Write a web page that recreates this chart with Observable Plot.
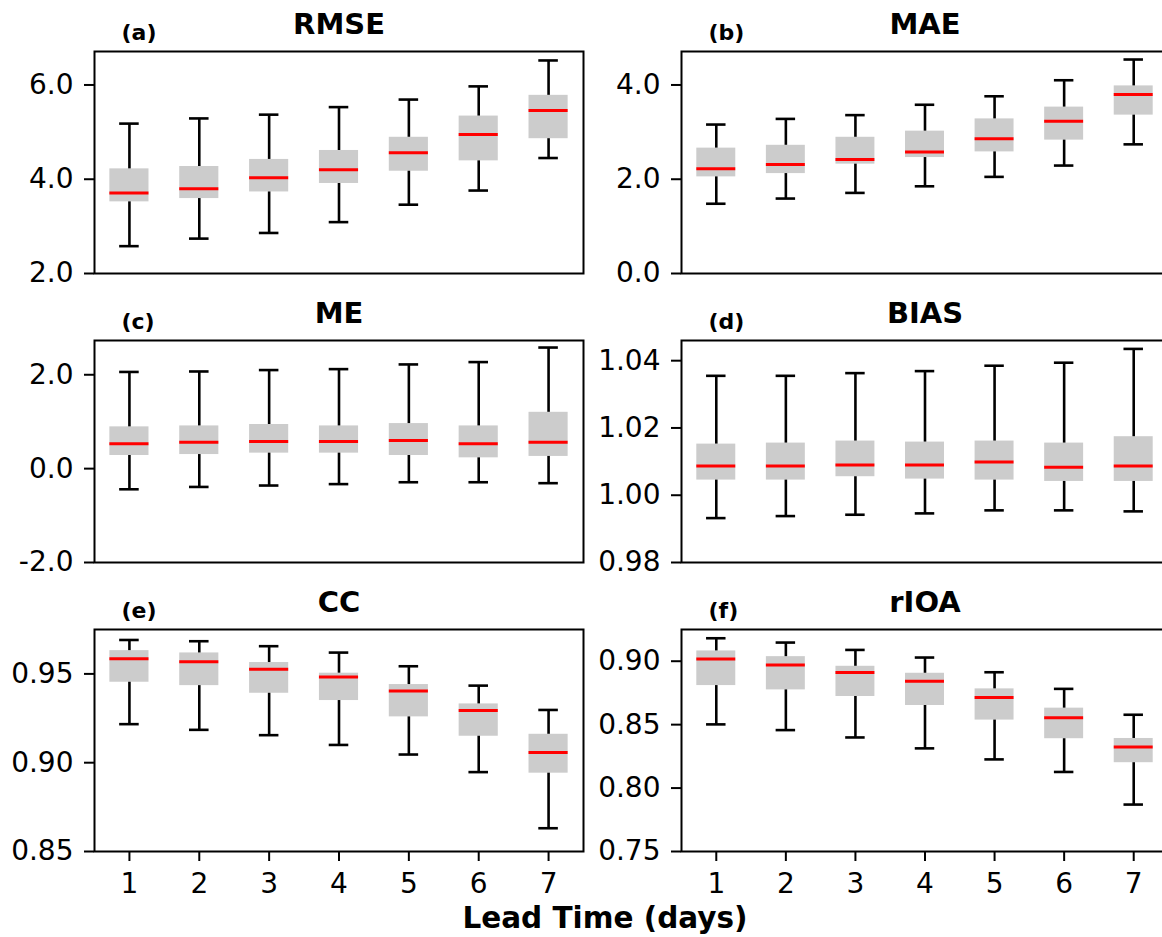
<!DOCTYPE html>
<html>
<head>
<meta charset="utf-8">
<script src="https://cdn.jsdelivr.net/npm/d3@7"></script>
<script src="https://cdn.jsdelivr.net/npm/@observablehq/plot@0.6"></script>
<style>
  html, body { margin: 0; padding: 0; background: #fff; overflow: hidden; }
  #wrap { position: relative; width: 1162px; height: 937px; overflow: hidden; }
  #wrap svg { position: absolute; overflow: visible; }
</style>
</head>
<body>
<div id="wrap"></div>
<script>
const days = [1, 2, 3, 4, 5, 6, 7];
const xLabel = "Lead Time (days)";

const rmseLow  = [2.58, 2.74, 2.86, 3.09, 3.46, 3.76, 4.45];
const rmseQ1   = [3.52, 3.59, 3.73, 3.91, 4.17, 4.39, 4.86];
const rmseMed  = [3.71, 3.80, 4.03, 4.20, 4.56, 4.95, 5.46];
const rmseQ3   = [4.22, 4.27, 4.42, 4.61, 4.89, 5.34, 5.78];
const rmseHigh = [5.18, 5.29, 5.37, 5.53, 5.69, 5.97, 6.52];

const maeLow  = [1.48, 1.59, 1.71, 1.85, 2.05, 2.29, 2.74];
const maeQ1   = [2.05, 2.12, 2.32, 2.46, 2.58, 2.83, 3.36];
const maeMed  = [2.22, 2.31, 2.42, 2.58, 2.86, 3.23, 3.80];
const maeQ3   = [2.66, 2.72, 2.89, 3.02, 3.28, 3.53, 3.98];
const maeHigh = [3.16, 3.28, 3.36, 3.58, 3.76, 4.10, 4.54];

const meLow  = [-0.44, -0.39, -0.36, -0.33, -0.29, -0.29, -0.31];
const meQ1   = [0.28, 0.30, 0.33, 0.33, 0.28, 0.23, 0.26];
const meMed  = [0.53, 0.56, 0.58, 0.58, 0.60, 0.53, 0.56];
const meQ3   = [0.89, 0.91, 0.94, 0.91, 0.96, 0.91, 1.20];
const meHigh = [2.06, 2.07, 2.10, 2.12, 2.22, 2.27, 2.58];

const biasLow  = [0.9932, 0.9938, 0.9942, 0.9946, 0.9955, 0.9955, 0.9952];
const biasQ1   = [1.0045, 1.0045, 1.0055, 1.0048, 1.0045, 1.0041, 1.0041];
const biasMed  = [1.0087, 1.0087, 1.0090, 1.0090, 1.0099, 1.0083, 1.0087];
const biasQ3   = [1.0152, 1.0155, 1.0161, 1.0158, 1.0161, 1.0155, 1.0174];
const biasHigh = [1.0355, 1.0355, 1.0363, 1.0369, 1.0385, 1.0394, 1.0435];

const ccLow  = [0.9217, 0.9185, 0.9155, 0.9100, 0.9046, 0.8947, 0.8631];
const ccQ1   = [0.9453, 0.9434, 0.9391, 0.9350, 0.9258, 0.9149, 0.8941];
const ccMed  = [0.9586, 0.9569, 0.9526, 0.9483, 0.9404, 0.9294, 0.9057];
const ccQ3   = [0.9631, 0.9618, 0.9564, 0.9504, 0.9440, 0.9331, 0.9160];
const ccHigh = [0.9691, 0.9684, 0.9656, 0.9620, 0.9543, 0.9434, 0.9297];

const rioaLow  = [0.8502, 0.8457, 0.8399, 0.8313, 0.8226, 0.8127, 0.7870];
const rioaQ1   = [0.8808, 0.8774, 0.8722, 0.8651, 0.8536, 0.8389, 0.8200];
const rioaMed  = [0.9018, 0.8971, 0.8911, 0.8842, 0.8714, 0.8554, 0.8323];
const rioaQ3   = [0.9081, 0.9036, 0.8960, 0.8905, 0.8782, 0.8630, 0.8391];
const rioaHigh = [0.9181, 0.9147, 0.9089, 0.9029, 0.8913, 0.8782, 0.8578];

const panelTitles = ["RMSE", "MAE", "ME", "BIAS", "CC", "rIOA"];
const panelTags = ["(a)", "(b)", "(c)", "(d)", "(e)", "(f)"];
const yDomains = [[2, 6.71], [0, 4.71], [-2, 2.73], [0.98, 1.046], [0.85, 0.975], [0.75, 0.925]];
const yTicks = [[2, 4, 6], [0, 2, 4], [-2, 0, 2], [0.98, 1.00, 1.02, 1.04], [0.85, 0.90, 0.95], [0.75, 0.80, 0.85, 0.90]];
const yDecimals = [1, 1, 1, 2, 2, 2];

const series = [
  [rmseLow, rmseQ1, rmseMed, rmseQ3, rmseHigh],
  [maeLow, maeQ1, maeMed, maeQ3, maeHigh],
  [meLow, meQ1, meMed, meQ3, meHigh],
  [biasLow, biasQ1, biasMed, biasQ3, biasHigh],
  [ccLow, ccQ1, ccMed, ccQ3, ccHigh],
  [rioaLow, rioaQ1, rioaMed, rioaQ3, rioaHigh]
];

const FONT = "DejaVu Sans";
const boxHalf = 0.28, capHalf = 0.14;
const frameH = 222;
const colLeft = [94, 681];
const colWidth = [489, 487];
const rowTop = [51, 340, 629];
const mLeft = 94, mTop = 51;

const wrap = document.getElementById("wrap");

series.forEach((s, i) => {
  const row = Math.floor(i / 2), col = i % 2;
  const showX = row === 2;
  const data = days.map((day, j) => ({day, lo: s[0][j], q1: s[1][j], med: s[2][j], q3: s[3][j], hi: s[4][j]}));
  const mBottom = showX ? 60 : 4;
  const mRight = 6;
  const dec = yDecimals[i];
  const chart = Plot.plot({
    width: mLeft + colWidth[col] + mRight,
    height: mTop + frameH + mBottom,
    marginLeft: mLeft, marginRight: mRight, marginTop: mTop, marginBottom: mBottom,
    style: {fontFamily: FONT, fontSize: "28px", color: "black", background: "transparent", overflow: "visible"},
    x: {domain: [0.5, 7.5], axis: null},
    y: {domain: yDomains[i], axis: null},
    marks: [
      Plot.rect(data, {x1: d => d.day - boxHalf, x2: d => d.day + boxHalf, y1: "q1", y2: "q3", fill: "#cccccc"}),
      Plot.ruleX(data, {x: "day", y1: "q3", y2: "hi", stroke: "black", strokeWidth: 2.6}),
      Plot.ruleX(data, {x: "day", y1: "lo", y2: "q1", stroke: "black", strokeWidth: 2.6}),
      Plot.ruleY(data, {y: "hi", x1: d => d.day - capHalf, x2: d => d.day + capHalf, stroke: "black", strokeWidth: 2.6}),
      Plot.ruleY(data, {y: "lo", x1: d => d.day - capHalf, x2: d => d.day + capHalf, stroke: "black", strokeWidth: 2.6}),
      Plot.ruleY(data, {y: "med", x1: d => d.day - boxHalf, x2: d => d.day + boxHalf, stroke: "#ff0000", strokeWidth: 3}),
      Plot.frame({stroke: "black", strokeWidth: 2}),
      Plot.axisY({ticks: yTicks[i], tickFormat: d => d.toFixed(dec), tickSize: 10, tickPadding: 11, fontSize: 28, strokeWidth: 2, stroke: "black", fill: "black", label: null}),
      showX ? Plot.axisX({ticks: days, tickFormat: d => String(d), tickSize: 10, tickPadding: 12, fontSize: 28, strokeWidth: 2, stroke: "black", fill: "black", label: null}) : null,
      Plot.text([panelTitles[i]], {frameAnchor: "top", dy: -18, lineAnchor: "bottom", fontSize: 29, fontWeight: "bold", fill: "black"}),
      Plot.text([panelTags[i]], {frameAnchor: "top-left", dx: 27, dy: -12, textAnchor: "start", lineAnchor: "bottom", fontSize: 22, fontWeight: "bold", fill: "black"})
    ]
  });
  chart.style.left = (colLeft[col] - mLeft) + "px";
  chart.style.top = (rowTop[row] - mTop) + "px";
  wrap.appendChild(chart);
});

const overlay = d3.create("svg")
  .attr("width", 1162).attr("height", 937)
  .style("left", "0px").style("top", "0px").style("pointer-events", "none");
overlay.append("text")
  .attr("x", 605).attr("y", 928)
  .attr("text-anchor", "middle")
  .attr("font-family", FONT)
  .attr("font-size", 29.5)
  .attr("font-weight", "bold")
  .attr("fill", "black")
  .text(xLabel);
wrap.appendChild(overlay.node());
</script>
</body>
</html>
